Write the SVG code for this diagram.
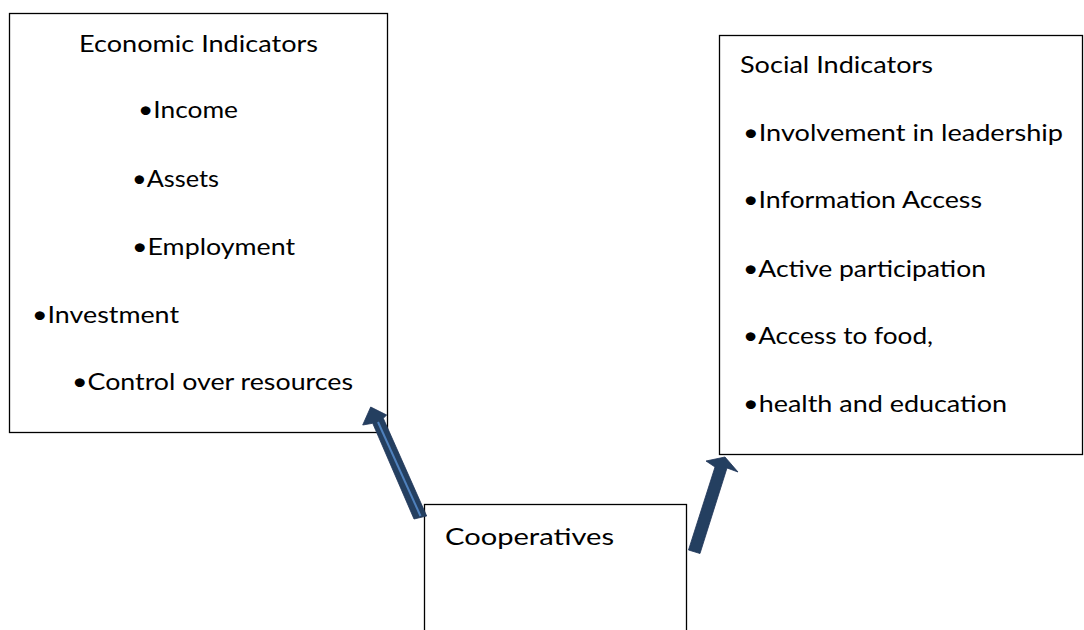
<svg xmlns="http://www.w3.org/2000/svg" width="1084" height="630" viewBox="0 0 1084 630">
  <style>
    .box { fill: #ffffff; stroke: #000000; stroke-width: 1.3; }
    .lbl { font-family: Lato, "Open Sans", "Liberation Sans", sans-serif; font-size: 24px; fill: #000000; }
    .arrow { fill: #243F60; stroke: #1F3558; stroke-width: 0.8; stroke-linejoin: miter; }
    .stripe { stroke: #4F81BD; stroke-width: 2; fill: none; }
  </style>
  <rect width="1084" height="630" fill="#ffffff"/>

  <!-- Economic indicators -->
  <g id="economic">
    <rect class="box" x="9.5" y="13.5" width="378" height="419"/>
    <text class="lbl" x="79" y="52" textLength="239" lengthAdjust="spacingAndGlyphs">Economic Indicators</text>
    <text class="lbl" x="138" y="118" textLength="100" lengthAdjust="spacingAndGlyphs">•Income</text>
    <text class="lbl" x="132" y="187" textLength="87" lengthAdjust="spacingAndGlyphs">•Assets</text>
    <text class="lbl" x="132" y="255" textLength="163" lengthAdjust="spacingAndGlyphs">•Employment</text>
    <text class="lbl" x="32" y="323" textLength="147" lengthAdjust="spacingAndGlyphs">•Investment</text>
    <text class="lbl" x="72" y="390" textLength="281" lengthAdjust="spacingAndGlyphs">•Control over resources</text>
  </g>

  <!-- Social indicators -->
  <g id="social">
    <rect class="box" x="719.5" y="35.5" width="363" height="419"/>
    <text class="lbl" x="740" y="73" textLength="193" lengthAdjust="spacingAndGlyphs">Social Indicators</text>
    <text class="lbl" x="743" y="141" textLength="320" lengthAdjust="spacingAndGlyphs">•Involvement in leadership</text>
    <text class="lbl" x="743" y="208" textLength="239" lengthAdjust="spacingAndGlyphs">•Information Access</text>
    <text class="lbl" x="743" y="277" textLength="243" lengthAdjust="spacingAndGlyphs">•Active participation</text>
    <text class="lbl" x="743" y="344" textLength="190" lengthAdjust="spacingAndGlyphs">•Access to food,</text>
    <text class="lbl" x="743" y="412" textLength="264" lengthAdjust="spacingAndGlyphs">•health and education</text>
  </g>

  <!-- Cooperatives -->
  <g id="cooperatives">
    <rect class="box" x="424.5" y="504.5" width="262" height="140"/>
    <text class="lbl" x="445" y="545" textLength="169" lengthAdjust="spacingAndGlyphs">Cooperatives</text>
  </g>

  <!-- Block arrows from cooperatives to the indicator boxes -->
  <g id="connectors">
    <polygon class="arrow" points="414,519 372.7,423.3 362.7,425 370.7,407 386.7,415 383.3,418.3 426.7,516"/>
    <line class="stripe" x1="420.5" y1="516" x2="378" y2="422"/>
    <polygon class="arrow" points="688.5,550 715,467 706,461 725,457 738,472 727,468 700,553.5"/>
  </g>
</svg>
